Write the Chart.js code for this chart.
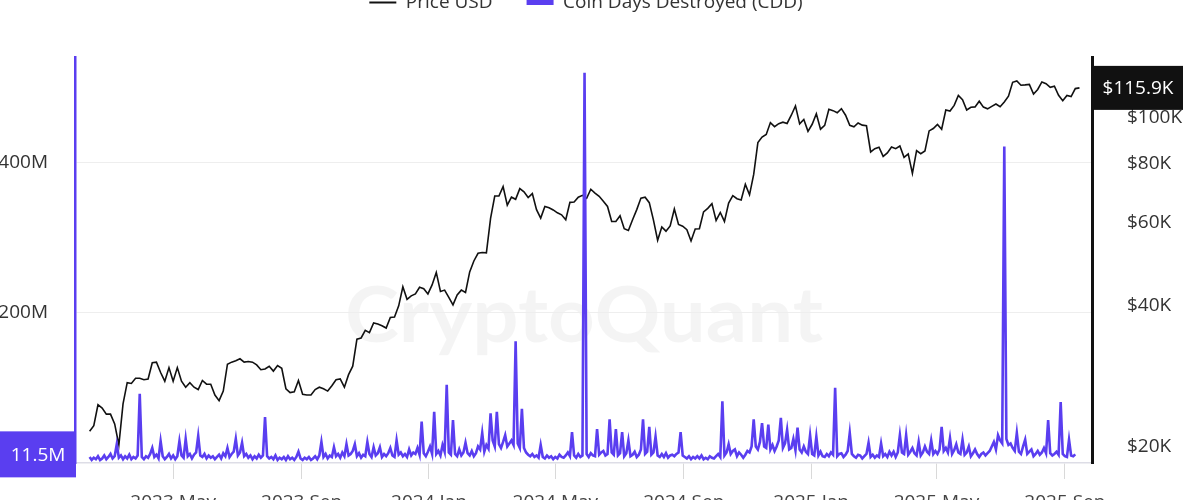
<!DOCTYPE html>
<html>
<head>
<meta charset="utf-8">
<title>Coin Days Destroyed vs Price USD</title>
<script src="https://cdn.jsdelivr.net/npm/chart.js@4.4.1/dist/chart.umd.min.js"></script>
<style>
    html, body { margin: 0; padding: 0; background: #fff; overflow: hidden; }
    #wrap { position: absolute; left: 0; top: -41px; width: 1200px; height: 564px; }
</style>
</head>
<body>
<div id="wrap"><canvas id="cdd-chart"></canvas></div>
<script>
const DAY = 86400000;
const day = (y, m, d) => Date.UTC(y, m - 1, d) / DAY;

const PURPLE = '#5a3ef0';
const FONT = '"Open Sans", "DejaVu Sans", sans-serif';

// x axis range and month ticks
const xStart = day(2023, 1, 27);
const xEnd = day(2025, 9, 27);
const xTickLabels = ['2023 May', '2023 Sep', '2024 Jan', '2024 May', '2024 Sep', '2025 Jan', '2025 May', '2025 Sep'];
const xTickDates = [[2023, 5, 1], [2023, 9, 1], [2024, 1, 1], [2024, 5, 1], [2024, 9, 1], [2025, 1, 1], [2025, 5, 1], [2025, 9, 1]];

// price in thousands of USD, one value every 4 days from 2023-02-10
const priceStart = day(2023, 2, 10);
const priceStep = 4;
const price2023 = [
    21.6, 22.2, 24.6, 24.2, 23.5, 23.5, 22.4, 20.2, 24.7, 27.4,
    27.3, 28.0, 28.0, 27.8, 27.9, 30.2, 30.3, 28.8, 27.6, 29.5,
    27.6, 29.5, 27.6, 26.8, 27.4, 26.8, 26.5, 27.7, 27.2, 27.2,
    25.8, 25.1, 26.3, 30.0, 30.3, 30.5, 30.8, 30.3, 30.4, 30.3,
    29.9, 29.2, 29.3, 29.7, 29.0, 29.8, 29.4, 26.6, 26.1, 26.2,
    27.7, 25.9, 25.8, 25.8, 26.5, 26.8, 26.6, 26.3, 27.0, 27.8,
    27.9, 26.8, 28.5, 29.7, 33.9, 34.1, 35.4, 35.0, 36.7, 36.5,
    36.2, 35.8, 37.7, 37.8, 39.9, 43.8, 41.2, 41.9, 42.3, 43.7,
    43.4, 42.3
];
const price2024 = [
    44.2, 47.0, 42.8, 43.1, 41.6, 40.1, 42.1, 43.1, 42.6, 47.1,
    49.7, 51.6, 51.8, 51.7, 61.2, 68.3, 68.3, 71.5, 65.3, 67.9,
    67.2, 70.8, 69.7, 67.8, 69.1, 63.9, 61.3, 64.9, 64.5, 63.8,
    62.9, 62.3, 60.8, 66.2, 66.3, 67.9, 68.5, 67.5, 70.6, 69.3,
    68.2, 66.6, 64.9, 60.3, 60.3, 62.0, 58.2, 57.7, 60.8, 63.9,
    67.6, 67.9, 66.1, 60.7, 55.0, 58.7, 57.5, 59.0, 64.1, 59.4,
    58.9, 57.9, 54.8, 58.1, 58.2, 63.2, 64.3, 65.8, 60.6, 63.0,
    60.3, 66.0, 68.4, 67.4, 67.0, 72.3, 68.7, 75.9, 88.7, 91.1,
    92.3, 97.8, 95.9, 97.3, 98.0, 97.4, 101.4, 106.1, 97.2, 99.3,
    93.7
];
const price2025 = [
    97.0, 102.1, 94.7, 96.5, 104.4, 103.7, 102.6, 104.7, 101.4, 96.5,
    95.8, 97.6, 96.6, 96.3, 84.7, 86.1, 86.7, 82.9, 84.3, 86.8,
    86.1, 87.2, 82.5, 83.9, 76.3, 85.3, 84.0, 85.1, 93.9, 95.0,
    96.9, 94.7, 104.0, 103.5, 106.4, 111.7, 109.4, 104.0, 105.4, 105.6,
    108.6, 105.5, 104.6, 105.9, 107.1, 105.7, 108.2, 111.3, 119.1, 119.9,
    117.4, 117.6, 117.9, 112.5, 115.0, 119.3, 118.3, 116.2, 116.9, 111.8,
    108.8, 111.7, 111.1, 115.5, 115.9
];

// coin days destroyed in millions, one value every 2 days from 2023-02-10
const cddStart = day(2023, 2, 10);
const cddStep = 2;
const cddValues = [
    8, 4, 7, 5, 9, 4, 6, 10, 5, 8, 12, 6, 9, 25, 7, 10, 5, 9, 6, 11,
    5, 8, 6, 10, 92, 8, 5, 9, 7, 12, 20, 8, 11, 6, 29, 9, 5, 8, 12, 6,
    10, 5, 9, 29, 10, 7, 32, 9, 12, 6, 11, 14, 36, 10, 8, 12, 6, 10, 7, 9,
    5, 8, 11, 6, 13, 9, 20, 8, 12, 15, 32, 10, 14, 27, 9, 12, 7, 10, 5, 9,
    6, 11, 7, 10, 61, 9, 6, 8, 5, 10, 4, 7, 5, 8, 4, 9, 5, 7, 4, 8,
    15, 6, 4, 7, 5, 8, 4, 6, 9, 5, 10, 28, 8, 12, 6, 10, 8, 21, 9, 12,
    7, 14, 9, 25, 10, 12, 16, 25, 9, 13, 7, 11, 9, 28, 12, 8, 21, 10, 13, 21,
    8, 12, 9, 13, 20, 10, 8, 30, 11, 14, 9, 12, 8, 18, 10, 14, 12, 20, 11, 55,
    13, 9, 15, 22, 12, 68, 12, 16, 10, 24, 15, 104, 14, 11, 57, 12, 9, 18, 10, 14,
    27, 13, 10, 16, 9, 13, 22, 18, 40, 15, 24, 19, 66, 30, 22, 68, 25, 20, 28, 37,
    22, 26, 30, 24, 162, 26, 20, 72, 20, 14, 11, 9, 12, 8, 10, 7, 24, 8, 6, 10,
    7, 9, 5, 8, 6, 11, 8, 7, 10, 14, 9, 41, 10, 7, 12, 8, 10, 519, 12, 8,
    13, 10, 9, 45, 11, 14, 16, 10, 12, 58, 14, 11, 45, 10, 13, 41, 9, 13, 30, 9,
    11, 15, 8, 11, 18, 58, 12, 15, 48, 11, 14, 35, 10, 8, 12, 8, 13, 7, 10, 11,
    9, 12, 14, 41, 10, 8, 6, 9, 5, 8, 6, 9, 6, 10, 5, 7, 5, 9, 7, 6,
    9, 12, 8, 82, 10, 14, 25, 12, 16, 18, 9, 14, 11, 7, 11, 16, 14, 22, 58, 22,
    18, 28, 53, 22, 20, 51, 18, 24, 16, 22, 30, 60, 20, 26, 44, 18, 20, 32, 17, 47,
    18, 14, 22, 15, 12, 37, 12, 10, 35, 10, 15, 9, 8, 12, 9, 14, 11, 100, 9, 12,
    13, 8, 11, 16, 40, 12, 9, 7, 11, 10, 6, 9, 12, 27, 8, 11, 7, 10, 8, 26,
    9, 12, 8, 15, 10, 15, 8, 14, 37, 14, 12, 37, 11, 15, 20, 13, 10, 28, 10, 14,
    22, 15, 12, 30, 12, 16, 12, 18, 48, 16, 20, 14, 33, 12, 17, 25, 14, 12, 31, 11,
    14, 22, 9, 13, 18, 12, 8, 12, 14, 10, 13, 16, 22, 28, 18, 37, 30, 26, 421, 32,
    24, 26, 20, 16, 40, 15, 12, 22, 31, 12, 15, 18, 9, 12, 16, 11, 14, 20, 13, 57,
    13, 10, 12, 15, 11, 81, 12, 9, 8, 31, 10, 9, 11.5
];

// axis ticks
const cddTicks = [200, 400];
const priceTicks = [20, 40, 60, 80, 100];

const priceValues = price2023.concat(price2024, price2025);
const pricePoints = priceValues.map((v, i) => ({ x: priceStart + i * priceStep, y: v }));
const cddPoints = cddValues.map((v, i) => ({ x: cddStart + i * cddStep, y: v }));
const xTickDays = xTickDates.map(d => day(d[0], d[1], d[2]));

const lastPrice = priceValues[priceValues.length - 1];
const lastCdd = cddValues[cddValues.length - 1];

// faint brand watermark behind everything
const watermark = {
    id: 'watermark',
    beforeDraw(chart) {
        const ctx = chart.ctx;
        ctx.save();
        ctx.font = 'bold 76px Lato, "Open Sans", sans-serif';
        ctx.fillStyle = 'rgba(0, 0, 0, 0.045)';
        ctx.textAlign = 'center';
        ctx.textBaseline = 'alphabetic';
        const w = ctx.measureText('CryptoQuant').width;
        ctx.translate(584, 383);
        ctx.scale(478 / w, 1);
        ctx.fillText('CryptoQuant', 0, 0);
        ctx.restore();
    }
};

// room under the legend, legend shifted a bit left
const legendSpace = {
    id: 'legendSpace',
    beforeInit(chart) {
        const fit = chart.legend.fit;
        chart.legend.fit = function () {
            fit.call(this);
            this.height = 98;
        };
    },
    afterLayout(chart) {
        chart.legend.left -= 14;
        chart.legend.right -= 14;
    }
};

// last value labels on both axes
const valueBoxes = {
    id: 'valueBoxes',
    afterDraw(chart) {
        const ctx = chart.ctx;
        const area = chart.chartArea;
        const yC = chart.scales.yCdd.getPixelForValue(lastCdd);
        const yP = chart.scales.yPrice.getPixelForValue(lastPrice);
        ctx.save();
        ctx.font = '19px ' + FONT;
        ctx.textBaseline = 'middle';
        ctx.textAlign = 'center';

        ctx.fillStyle = PURPLE;
        ctx.fillRect(0, yC - 23, area.left + 1, 46);
        ctx.fillStyle = '#fff';
        ctx.fillText(lastCdd + 'M', 38, yC + 1);

        ctx.fillStyle = '#111';
        ctx.fillRect(area.right, yP - 22, 91, 44);
        ctx.fillStyle = '#fff';
        ctx.fillText('$' + lastPrice + 'K', area.right + 46, yP + 1);
        ctx.restore();
    }
};

const ctx = document.getElementById('cdd-chart').getContext('2d');
new Chart(ctx, {
    type: 'line',
    data: {
        datasets: [
            {
                label: 'Price USD',
                data: pricePoints,
                yAxisID: 'yPrice',
                borderColor: '#111',
                backgroundColor: '#111',
                borderWidth: 1.6,
                pointRadius: 0,
                tension: 0,
                order: 2
            },
            {
                label: 'Coin Days Destroyed (CDD)',
                data: cddPoints,
                yAxisID: 'yCdd',
                borderColor: PURPLE,
                backgroundColor: PURPLE,
                borderWidth: 2.6,
                pointRadius: 0,
                tension: 0,
                order: 1
            }
        ]
    },
    options: {
        responsive: true,
        maintainAspectRatio: false,
        animation: false,
        layout: { padding: 0 },
        plugins: {
            tooltip: { enabled: false },
            legend: {
                labels: {
                    usePointStyle: true,
                    pointStyle: 'line',
                    pointStyleWidth: 27,
                    padding: 34,
                    color: '#333',
                    font: { family: FONT, size: 19 },
                    sort: (a, b) => a.datasetIndex - b.datasetIndex,
                    generateLabels(chart) {
                        const items = Chart.defaults.plugins.legend.labels.generateLabels(chart);
                        items.forEach(item => { item.lineWidth = item.datasetIndex === 0 ? 2 : 5; });
                        return items;
                    }
                }
            }
        },
        scales: {
            x: {
                type: 'linear',
                min: xStart,
                max: xEnd,
                afterBuildTicks: scale => { scale.ticks = xTickDays.map(v => ({ value: v })); },
                afterFit: scale => { scale.height = 60; },
                grid: { drawOnChartArea: false, tickLength: 16, color: '#d9d9d9' },
                border: { color: '#dddde6', width: 1.5 },
                ticks: {
                    autoSkip: false,
                    maxRotation: 0,
                    padding: 12,
                    color: '#444',
                    font: { family: FONT, size: 19 },
                    callback: (value, index) => xTickLabels[index]
                }
            },
            yCdd: {
                type: 'linear',
                position: 'left',
                min: 0,
                max: 540,
                afterBuildTicks: scale => { scale.ticks = cddTicks.map(v => ({ value: v })); },
                afterFit: scale => { scale.width = 75; },
                grid: { drawTicks: false, color: '#eeeeee' },
                border: { color: PURPLE, width: 2.5 },
                ticks: {
                    padding: 27,
                    color: '#333',
                    font: { family: FONT, size: 19 },
                    callback: v => v + 'M'
                }
            },
            yPrice: {
                type: 'logarithmic',
                position: 'right',
                min: 18.5,
                max: 134.8,
                afterBuildTicks: scale => { scale.ticks = priceTicks.map(v => ({ value: v })); },
                afterFit: scale => { scale.width = 108; },
                grid: { display: false },
                border: { color: '#111', width: 3 },
                ticks: {
                    padding: 27,
                    color: '#333',
                    font: { family: FONT, size: 19 },
                    callback: v => '$' + v + 'K'
                }
            }
        }
    },
    plugins: [watermark, legendSpace, valueBoxes]
});
</script>
</body>
</html>
